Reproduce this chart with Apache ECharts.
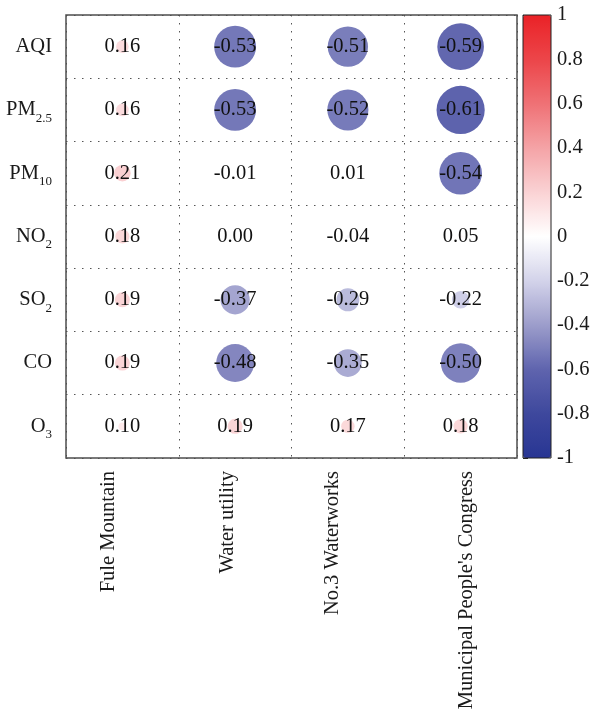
<!DOCTYPE html>
<html>
<head>
<meta charset="utf-8">
<script src="https://cdn.jsdelivr.net/npm/echarts@6/dist/echarts.min.js"></script>
<style>
  html, body { margin: 0; padding: 0; background: #fff; }
  #main { width: 593px; height: 716px; }
</style>
</head>
<body>
<div id="main"></div>
<script>
// row / column names
var rowMain = ['AQI', 'PM', 'PM', 'NO', 'SO', 'CO', 'O'];
var rowSub = ['', '2.5', '10', '2', '2', '', '3'];
var rowNames = ['AQI', 'PM2.5', 'PM10', 'NO2', 'SO2', 'CO', 'O3'];
var colNames = ['Fule Mountain', 'Water utility', 'No.3 Waterworks', "Municipal People's Congress"];

// correlation per column, rows in the order above
var fuleMountain = [0.16, 0.16, 0.21, 0.18, 0.19, 0.19, 0.10];
var waterUtility = [-0.53, -0.53, -0.01, 0.00, -0.37, -0.48, 0.19];
var no3Waterworks = [-0.51, -0.52, 0.01, -0.04, -0.29, -0.35, 0.17];
var municipal = [-0.59, -0.61, -0.54, 0.05, -0.22, -0.50, 0.18];

var columns = [fuleMountain, waterUtility, no3Waterworks, municipal];
var points = [];
columns.forEach(function (col, c) {
    col.forEach(function (v, r) {
        points.push([c, r, v]);
    });
});

var serif = 'Liberation Serif';
var dotted = { color: '#555', width: 1, type: [1.5, 6.5] };

// the rotated column labels sit a little off centre in the original
var colRich = {};
[[0, 0, 28, 0], [0, 0, 16, 0], [0, 0, 30, 0], [12, 0, 0, 0]].forEach(function (p, i) {
    colRich['c' + i] = { fontFamily: serif, fontSize: 20.5, color: '#1a1a1a', padding: p };
});

var chart = echarts.init(document.getElementById('main'));

var option = {
    animation: false,
    grid: [
        { left: 66, right: 76, top: 15, bottom: 258, show: true, borderColor: '#4d4d4d', borderWidth: 1.5, z: 10 },
        { left: 523, top: 15, width: 28, height: 443, show: true, borderColor: '#222', borderWidth: 1, z: 10 }
    ],
    xAxis: [
        {
            type: 'category', gridIndex: 0, data: colNames, boundaryGap: true,
            axisLine: { show: false }, axisTick: { show: false },
            splitLine: { show: true, interval: 0, lineStyle: dotted },
            axisLabel: {
                rotate: 90, interval: 0, margin: 13,
                formatter: function (v, i) { return '{c' + i + '|' + v + '}'; },
                rich: colRich
            }
        },
        { type: 'value', gridIndex: 1, show: false, min: 0, max: 1 }
    ],
    yAxis: [
        {
            type: 'category', gridIndex: 0, data: rowNames, inverse: true, boundaryGap: true,
            axisLine: { show: false }, axisTick: { show: false },
            splitLine: { show: true, interval: 0, lineStyle: dotted },
            axisLabel: {
                margin: 14,
                formatter: function (v, i) {
                    return rowSub[i] ? '{m|' + rowMain[i] + '}{s|' + rowSub[i] + '}' : '{m|' + v + '}';
                },
                rich: {
                    m: { fontFamily: serif, fontSize: 20.5, color: '#1a1a1a' },
                    s: { fontFamily: serif, fontSize: 13, color: '#1a1a1a', padding: [17, 0, 0, 0], verticalAlign: 'bottom' }
                }
            }
        },
        {
            type: 'value', gridIndex: 1, position: 'right', min: -1, max: 1, interval: 0.2,
            axisLine: { show: false },
            axisTick: { show: true, length: 5, lineStyle: { color: '#222' } },
            splitLine: { show: false },
            axisLabel: {
                margin: 6, fontFamily: serif, fontSize: 20.5, color: '#1a1a1a',
                formatter: function (v) { return String(+(+v).toFixed(1)); }
            }
        }
    ],
    visualMap: {
        type: 'continuous', seriesIndex: 0, dimension: 2,
        min: -1, max: 1, calculable: false, orient: 'vertical',
        left: 523, top: 15, itemWidth: 28, itemHeight: 443, padding: 0,
        inRange: {
            color: ['#283593', '#3e489d', '#5f64ae', '#9c9dcb', '#d3d3ea', '#ffffff',
                    '#fad2d4', '#f4a3a6', '#ef7175', '#ec4549', '#ea2227']
        }
    },
    series: [{
        type: 'scatter',
        xAxisIndex: 0, yAxisIndex: 0,
        data: points,
        symbol: 'circle',
        symbolSize: function (d) { return Math.abs(d[2]) * 79; },
        itemStyle: { opacity: 1 },
        label: {
            show: true, position: 'inside',
            fontFamily: serif, fontSize: 20.5, color: '#111',
            formatter: function (p) { return p.value[2].toFixed(2); }
        },
        emphasis: { disabled: true },
        z: 3
    }]
};

chart.setOption(option);
</script>
</body>
</html>
